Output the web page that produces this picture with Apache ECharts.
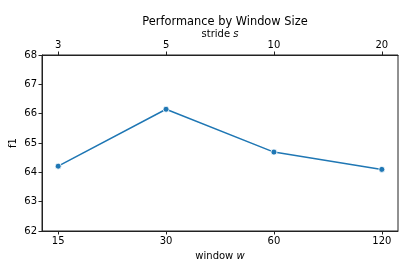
<!DOCTYPE html>
<html>
<head>
<meta charset="utf-8">
<script src="https://cdn.jsdelivr.net/npm/echarts@6/dist/echarts.min.js"></script>
<style>html,body{margin:0;padding:0;background:#fff}#c{width:409px;height:273px}</style>
</head>
<body>
<div id="c"></div>
<script>
const windowLabels = ['15', '30', '60', '120'];
const strideLabels = ['3', '5', '10', '20'];
const f1Values = [64.21, 66.15, 64.69, 64.10];
const yTicks = [62, 63, 64, 65, 66, 67, 68];

const FONT = 'DejaVu Sans';
const idx = windowLabels.map((_, i) => i);
const chart = echarts.init(document.getElementById('c'), null, {renderer: 'canvas'});
const baseX = {
  type: 'value', min: -0.15, max: 3.15,
  axisLine: {show: true, onZero: false, lineStyle: {color: '#222', width: 1}},
  axisTick: {show: true, length: 3.5, lineStyle: {color: '#222'}, customValues: idx},
  splitLine: {show: false},
  nameLocation: 'middle',
  nameMoveOverlap: false,
};
chart.setOption({
  animation: false,
  textStyle: {fontFamily: FONT},
  title: {
    text: 'Performance by Window Size', left: 220, top: 12, textAlign: 'center',
    textStyle: {fontFamily: FONT, fontSize: 11.4, fontWeight: 'normal', color: '#000'}
  },
  grid: {left: 42, right: 11, top: 55, bottom: 42, show: true, borderColor: '#222', borderWidth: 1},
  xAxis: [
    Object.assign({}, baseX, {
      position: 'bottom',
      axisLabel: {customValues: idx, formatter: v => windowLabels[Math.round(v)], fontSize: 10, color: '#000', margin: 5, fontFamily: FONT},
      name: '{a|window }{b|w}', nameGap: 20,
      nameTextStyle: {rich: {a: {fontSize: 10, color: '#000', fontFamily: FONT}, b: {fontSize: 10, color: '#000', fontStyle: 'italic', fontFamily: FONT}}}
    }),
    Object.assign({}, baseX, {
      position: 'top',
      axisLabel: {customValues: idx, formatter: v => strideLabels[Math.round(v)], fontSize: 10, color: '#000', margin: 5, fontFamily: FONT},
      name: '{a|stride }{b|s}', nameGap: 16,
      nameTextStyle: {rich: {a: {fontSize: 10, color: '#000', fontFamily: FONT}, b: {fontSize: 10, color: '#000', fontStyle: 'italic', fontFamily: FONT}}}
    })
  ],
  yAxis: {
    type: 'value', min: yTicks[0], max: yTicks[yTicks.length - 1], interval: 1,
    axisLine: {show: true, onZero: false, lineStyle: {color: '#222', width: 1}},
    axisTick: {show: true, length: 3.5, lineStyle: {color: '#222'}},
    axisLabel: {fontSize: 10, color: '#000', margin: 5, fontFamily: FONT},
    splitLine: {show: false},
    name: 'f1', nameLocation: 'middle', nameGap: 24, nameRotate: 90, nameMoveOverlap: false,
    nameTextStyle: {fontSize: 10, color: '#000', fontFamily: FONT}
  },
  series: [{
    type: 'line', xAxisIndex: 0,
    data: f1Values.map((v, i) => [i, v]),
    symbol: 'circle', symbolSize: 6,
    lineStyle: {color: '#1f77b4', width: 1.5},
    itemStyle: {color: '#1f77b4', borderColor: '#fff', borderWidth: 0.8}
  }]
});
</script>
</body>
</html>
